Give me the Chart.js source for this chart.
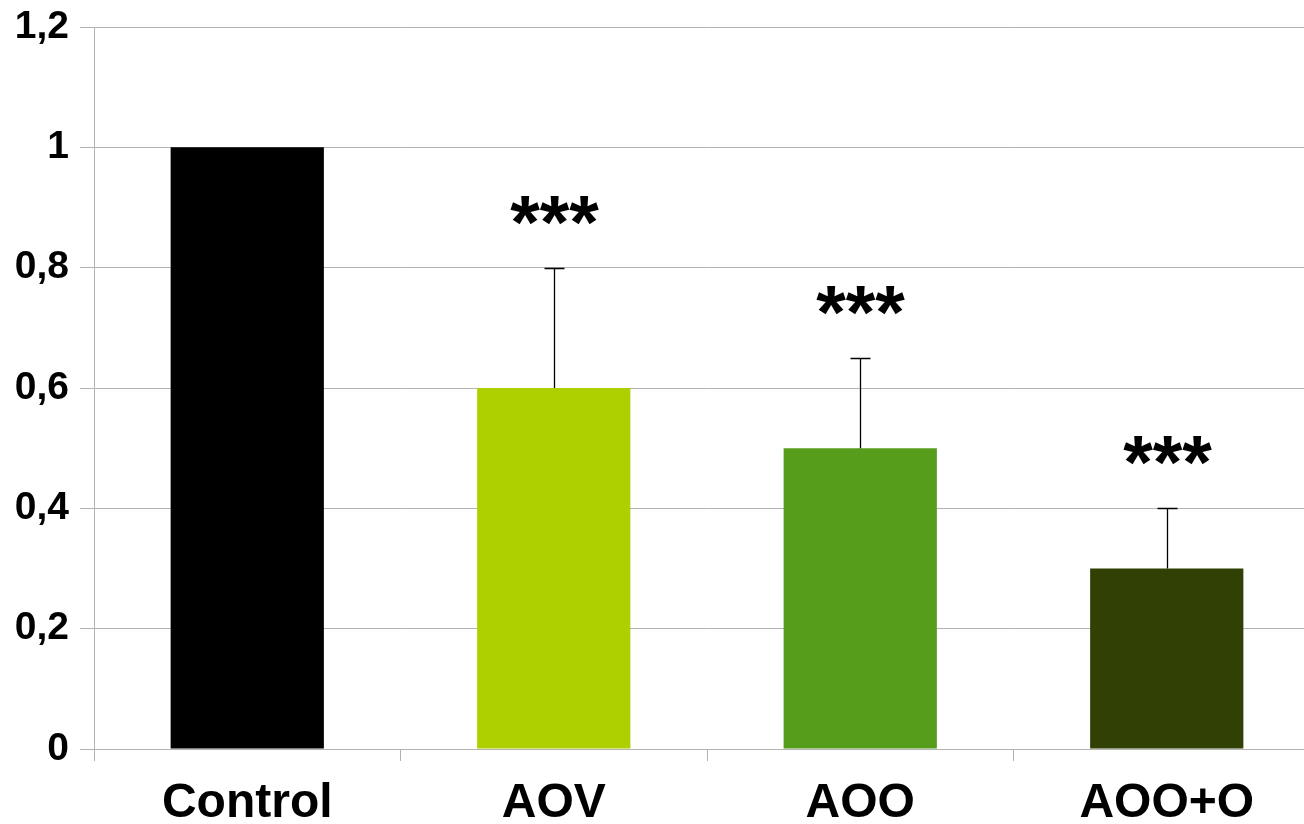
<!DOCTYPE html>
<html>
<head>
<meta charset="utf-8">
<script src="https://cdn.jsdelivr.net/npm/chart.js@4/dist/chart.umd.min.js"></script>
<style>
html,body{margin:0;padding:0;background:#fff;overflow:hidden;width:1304px;height:824px;}
#wrap{position:absolute;left:0;top:0;width:1320px;height:824px;}
</style>
</head>
<body>
<div id="wrap"><canvas id="c" width="1320" height="824"></canvas></div>
<script>
const categories = ['Control', 'AOV', 'AOO', 'AOO+O'];
const values = [1.0, 0.6, 0.5, 0.3];
const errorTops = [null, 0.8, 0.65, 0.4];
const significance = ['', '***', '***', '***'];
const barColors = ['#000000', '#aecf00', '#579d1c', '#314004'];
const yTicks = [0, 0.2, 0.4, 0.6, 0.8, 1.0, 1.2];

const annotPlugin = {
  id: 'annot',
  afterDatasetsDraw(chart) {
    const ctx = chart.ctx;
    const xs = chart.scales.x, ys = chart.scales.y;
    ctx.save();
    for (let i = 0; i < categories.length; i++) {
      const x = Math.round(xs.getPixelForValue(i)) + 0.5;
      const y0 = ys.getPixelForValue(values[i]);
      if (errorTops[i] != null) {
        const y1 = Math.round(ys.getPixelForValue(errorTops[i])) + 0.5;
        ctx.strokeStyle = '#000';
        ctx.lineWidth = 1.3;
        ctx.beginPath();
        ctx.moveTo(x, y0);
        ctx.lineTo(x, y1);
        ctx.moveTo(x - 10, y1);
        ctx.lineTo(x + 10, y1);
        ctx.stroke();
        if (significance[i]) {
          ctx.fillStyle = '#000';
          ctx.font = 'bold 76px "Liberation Sans"';
          ctx.textAlign = 'center';
          ctx.textBaseline = 'top';
          const m = ctx.measureText(significance[i]);
          const h = m.actualBoundingBoxDescent;
          ctx.fillText(significance[i], x, y1 - 44 - h);
        }
      }
    }
    ctx.restore();
  }
};

new Chart(document.getElementById('c'), {
  type: 'bar',
  data: {
    labels: categories,
    datasets: [{
      data: values,
      backgroundColor: barColors,
      borderWidth: 0,
      barPercentage: 0.5,
      categoryPercentage: 1.0
    }]
  },
  options: {
    responsive: false,
    animation: false,
    events: [],
    layout: { padding: { top: 27, right: 0, left: 0, bottom: 0 } },
    plugins: { legend: { display: false }, tooltip: { enabled: false } },
    scales: {
      x: {
        offset: true,
        grid: { display: true, drawOnChartArea: false, color: '#b3b3b3', tickLength: 12, offset: true },
        border: { display: true, color: '#b3b3b3', width: 1 },
        ticks: {
          color: '#000',
          font: { family: '"Liberation Sans", Arial, sans-serif', size: 48, weight: 'bold' },
          padding: 14,
          maxRotation: 0, autoSkip: false
        },
        afterFit(scale) { scale.height = 75; scale.paddingLeft = 0; scale.paddingRight = 0; }
      },
      y: {
        min: 0, max: 1.2,
        afterBuildTicks(scale) { scale.ticks = yTicks.map(v => ({ value: v })); },
        grid: { color: '#b3b3b3', tickLength: 14 },
        border: { display: true, color: '#b3b3b3', width: 1 },
        ticks: {
          color: '#000',
          padding: 11,
          font: { family: '"Liberation Sans", Arial, sans-serif', size: 39, weight: 'bold' },
          callback: v => String(Math.round(v * 10) / 10).replace('.', ',')
        },
        afterFit(scale) { scale.width = 94; scale.paddingTop = 0; scale.paddingBottom = 0; }
      }
    }
  },
  plugins: [annotPlugin]
});
</script>
</body>
</html>
